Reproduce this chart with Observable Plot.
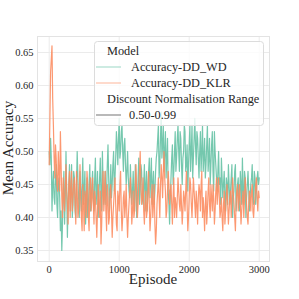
<!DOCTYPE html>
<html>
<head>
<meta charset="utf-8">
<script src="https://cdn.jsdelivr.net/npm/d3@7"></script>
<script src="https://cdn.jsdelivr.net/npm/@observablehq/plot@0.6"></script>
<style>
  html, body { margin: 0; padding: 0; background: #ffffff; }
  #chart { width: 299px; height: 299px; }
</style>
</head>
<body>
<div id="chart"></div>
<script>
const episodes = [
  0,10,20,30,40,50,60,70,80,90,100,
  110,120,130,140,150,160,170,180,190,200,
  210,220,230,240,250,260,270,280,290,300,
  310,320,330,340,350,360,370,380,390,400,
  410,420,430,440,450,460,470,480,490,500,
  510,520,530,540,550,560,570,580,590,600,
  610,620,630,640,650,660,670,680,690,700,
  710,720,730,740,750,760,770,780,790,800,
  810,820,830,840,850,860,870,880,890,900,
  910,920,930,940,950,960,970,980,990,1000,
  1010,1020,1030,1040,1050,1060,1070,1080,1090,1100,
  1110,1120,1130,1140,1150,1160,1170,1180,1190,1200,
  1210,1220,1230,1240,1250,1260,1270,1280,1290,1300,
  1310,1320,1330,1340,1350,1360,1370,1380,1390,1400,
  1410,1420,1430,1440,1450,1460,1470,1480,1490,1500,
  1510,1520,1530,1540,1550,1560,1570,1580,1590,1600,
  1610,1620,1630,1640,1650,1660,1670,1680,1690,1700,
  1710,1720,1730,1740,1750,1760,1770,1780,1790,1800,
  1810,1820,1830,1840,1850,1860,1870,1880,1890,1900,
  1910,1920,1930,1940,1950,1960,1970,1980,1990,2000,
  2010,2020,2030,2040,2050,2060,2070,2080,2090,2100,
  2110,2120,2130,2140,2150,2160,2170,2180,2190,2200,
  2210,2220,2230,2240,2250,2260,2270,2280,2290,2300,
  2310,2320,2330,2340,2350,2360,2370,2380,2390,2400,
  2410,2420,2430,2440,2450,2460,2470,2480,2490,2500,
  2510,2520,2530,2540,2550,2560,2570,2580,2590,2600,
  2610,2620,2630,2640,2650,2660,2670,2680,2690,2700,
  2710,2720,2730,2740,2750,2760,2770,2780,2790,2800,
  2810,2820,2830,2840,2850,2860,2870,2880,2890,2900,
  2910,2920,2930,2940,2950,2960,2970,2980,2990,3000
];

const accWD = [
  0.50,0.48,0.52,0.49,0.41,0.45,0.47,0.43,0.42,0.46,0.48,
  0.42,0.40,0.45,0.46,0.43,0.38,0.41,0.35,0.39,0.44,
  0.47,0.39,0.43,0.50,0.44,0.37,0.42,0.45,0.48,0.41,
  0.44,0.48,0.40,0.42,0.47,0.46,0.41,0.40,0.45,0.50,
  0.46,0.43,0.40,0.47,0.44,0.41,0.45,0.49,0.42,0.44,
  0.47,0.39,0.43,0.46,0.40,0.42,0.45,0.48,0.41,0.43,
  0.45,0.47,0.43,0.41,0.46,0.49,0.42,0.44,0.47,0.40,
  0.43,0.46,0.49,0.43,0.41,0.50,0.45,0.42,0.44,0.47,
  0.42,0.44,0.48,0.51,0.46,0.41,0.44,0.48,0.43,0.45,
  0.48,0.50,0.44,0.46,0.49,0.53,0.51,0.48,0.52,0.55,
  0.49,0.50,0.53,0.54,0.50,0.47,0.51,0.52,0.48,0.45,
  0.47,0.50,0.46,0.44,0.43,0.48,
  0.45,0.42,0.44,0.47,0.43,0.41,0.48,0.46,0.40,0.43,
  0.46,0.49,0.42,0.44,0.48,0.47,0.43,0.42,0.45,0.48,
  0.41,0.45,0.47,0.41,0.44,0.47,0.49,0.43,0.46,0.49,
  0.42,0.45,0.47,0.42,0.44,0.47,
  0.49,0.50,0.52,0.54,0.46,0.48,0.52,0.56,0.49,0.51,
  0.54,0.47,0.50,0.53,0.46,0.49,0.52,0.44,0.42,0.39,
  0.43,0.46,0.49,0.51,0.45,0.47,0.50,0.53,
  0.47,0.49,0.52,0.54,0.50,0.47,0.53,0.52,0.48,0.45,
  0.49,0.50,0.54,0.53,0.47,0.48,0.51,0.44,0.48,0.51,
  0.54,0.47,0.50,0.54,0.46,0.49,0.52,0.55,0.51,0.48,
  0.53,0.52,0.49,0.46,0.50,0.53,0.47,0.50,0.54,0.47,
  0.49,0.52,0.46,0.48,0.51,0.54,0.47,0.49,0.52,0.45,
  0.48,0.51,0.53,0.47,0.44,0.53,0.50,0.48,0.46,0.44,
  0.47,0.50,0.45,0.46,0.42,0.49,
  0.46,0.43,0.45,0.47,0.43,0.41,0.46,0.45,0.42,0.48,
  0.45,0.42,0.44,0.46,0.48,0.40,0.43,0.44,0.47,0.48,
  0.41,0.43,0.45,0.46,0.42,0.41,0.47,0.45,0.42,0.49,
  0.44,0.42,0.47,0.46,0.40,0.43,0.45,0.47,0.44,0.41,
  0.43,0.45,0.46,0.48,0.44,0.42,0.47,0.46,0.42,0.44,
  0.46,0.47,0.45,0.46
];

const accKLR = [
  0.48,0.55,0.62,0.64,0.66,0.58,0.54,0.49,0.46,0.51,0.49,
  0.45,0.44,0.50,0.47,0.44,0.53,0.48,0.43,0.40,0.46,
  0.43,0.41,0.45,0.48,0.44,0.42,0.39,0.45,0.47,0.40,
  0.44,0.47,0.41,0.43,0.45,0.46,0.42,0.39,0.47,0.44,
  0.40,0.41,0.44,0.48,0.43,0.40,0.38,0.45,0.42,0.38,
  0.44,0.43,0.40,0.47,0.45,0.40,0.38,0.44,0.46,0.41,
  0.43,0.46,0.42,0.39,0.44,0.43,0.40,0.37,0.41,0.45,
  0.42,0.40,0.44,0.36,0.39,0.44,0.47,0.41,0.43,0.47,
  0.41,0.38,0.45,0.43,0.39,0.40,0.44,0.45,0.41,0.37,
  0.40,0.42,0.44,0.46,0.42,0.39,0.38,0.44,0.43,0.41,
  0.45,0.47,0.41,0.38,0.40,0.43,0.44,0.40,0.42,0.45,
  0.40,0.37,0.40,0.42,0.44,0.46,
  0.43,0.39,0.41,0.44,0.40,0.41,0.45,0.48,0.43,0.40,
  0.42,0.45,0.47,0.50,0.45,0.42,0.43,0.46,0.41,0.39,
  0.42,0.44,0.40,0.41,0.44,0.47,0.42,0.38,0.40,0.43,
  0.45,0.40,0.42,0.45,0.39,0.36,
  0.38,0.42,0.44,0.46,0.43,0.40,0.45,0.48,0.46,0.43,
  0.47,0.50,0.46,0.44,0.40,0.41,0.44,0.47,0.45,0.42,
  0.44,0.45,0.42,0.39,0.43,0.46,0.40,0.43,
  0.42,0.40,0.43,0.46,0.44,0.42,0.41,0.45,0.42,0.39,
  0.41,0.44,0.43,0.41,0.44,0.47,0.42,0.38,0.40,0.43,
  0.46,0.45,0.42,0.40,0.43,0.46,0.44,0.42,0.40,0.44,
  0.42,0.39,0.43,0.45,0.44,0.41,0.45,0.47,0.40,0.43,
  0.41,0.38,0.42,0.44,0.39,0.41,0.44,0.46,0.42,0.40,
  0.45,0.43,0.41,0.45,0.43,0.39,0.41,0.44,0.46,0.42,
  0.44,0.46,0.43,0.40,0.41,0.43,
  0.40,0.38,0.42,0.44,0.39,0.41,0.43,0.45,0.42,0.39,
  0.41,0.43,0.44,0.40,0.43,0.46,0.44,0.42,0.40,0.38,
  0.42,0.44,0.45,0.41,0.43,0.45,0.42,0.39,0.41,0.43,
  0.44,0.40,0.43,0.46,0.44,0.42,0.40,0.39,0.42,0.44,
  0.43,0.41,0.44,0.45,0.41,0.40,0.42,0.43,0.45,0.46,
  0.43,0.41,0.44,0.43
];

const models = ["Accuracy-DD_WD", "Accuracy-DD_KLR"];
const modelColors = ["#66c2a5", "#fc8d62"];
const xTicks = [0, 1000, 2000, 3000];
const yTicks = [0.35, 0.40, 0.45, 0.50, 0.55, 0.60, 0.65];
const rangeLabel = "0.50-0.99";

const rows = [];
episodes.forEach((e, i) => rows.push({episode: e, acc: accWD[i], model: models[0]}));
episodes.forEach((e, i) => rows.push({episode: e, acc: accKLR[i], model: models[1]}));

const font = "'Liberation Serif', 'DejaVu Serif', serif";

const chart = Plot.plot({
  width: 299,
  height: 299,
  marginLeft: 37,
  marginRight: 30,
  marginTop: 36,
  marginBottom: 38,
  style: {fontFamily: font, fontSize: "10.5px", color: "#262626", background: "#ffffff"},
  x: {domain: [-167, 3147]},
  y: {domain: [0.3333, 0.6742]},
  color: {domain: models, range: modelColors},
  marks: [
    Plot.gridX(xTicks, {stroke: "#ebebeb", strokeOpacity: 1, strokeWidth: 1}),
    Plot.gridY(yTicks, {stroke: "#ebebeb", strokeOpacity: 1, strokeWidth: 1}),
    Plot.frame({stroke: "#e3e3e3", strokeWidth: 1}),
    Plot.line(rows, {x: "episode", y: "acc", z: "model", stroke: "model", strokeWidth: 1.2, strokeOpacity: 0.9}),
    Plot.axisX({ticks: xTicks, tickSize: 0, tickPadding: 4, label: null, tickFormat: d => String(d)}),
    Plot.axisY({ticks: yTicks, tickSize: 0, tickPadding: 4, label: null, tickFormat: d => d.toFixed(2)})
  ]
});

document.getElementById("chart").appendChild(chart);

const svg = d3.select(chart);
svg.append("text")
  .attr("transform", "translate(13,148) rotate(-90)")
  .attr("text-anchor", "middle")
  .attr("font-family", font)
  .attr("font-size", 15)
  .attr("fill", "#262626")
  .text("Mean Accuracy");
svg.append("text")
  .attr("x", 153)
  .attr("y", 284)
  .attr("text-anchor", "middle")
  .attr("font-family", font)
  .attr("font-size", 15)
  .attr("fill", "#262626")
  .text("Episode");

const lg = svg.append("g").attr("font-family", font).attr("font-size", 12.3)
  .attr("fill", "#262626").attr("text-anchor", "start");
lg.append("rect").attr("x", 94.5).attr("y", 41.5).attr("width", 169).attr("height", 84)
  .attr("rx", 3).attr("fill", "#ffffff").attr("fill-opacity", 0.8).attr("stroke", "#dcdcdc").attr("stroke-width", 1);
lg.append("text").attr("x", 107).attr("y", 55).attr("text-anchor", "start").text("Model");
const entries = [
  {y: 67, color: modelColors[0], label: models[0], tx: 131},
  {y: 83, color: modelColors[1], label: models[1], tx: 131},
];
entries.forEach(en => {
  lg.append("line").attr("x1", 96).attr("x2", 121).attr("y1", en.y).attr("y2", en.y)
    .attr("stroke", en.color).attr("stroke-opacity", 0.55).attr("stroke-width", 1.2);
  lg.append("text").attr("x", en.tx).attr("y", en.y + 4).attr("text-anchor", "start").text(en.label);
});
lg.append("text").attr("x", 107).attr("y", 103).attr("text-anchor", "start").text("Discount Normalisation Range");
lg.append("line").attr("x1", 96).attr("x2", 121).attr("y1", 115).attr("y2", 115)
  .attr("stroke", "#8a8a8a").attr("stroke-width", 1.2);
lg.append("text").attr("x", 129).attr("y", 119).attr("text-anchor", "start").text(rangeLabel);
</script>
</body>
</html>
